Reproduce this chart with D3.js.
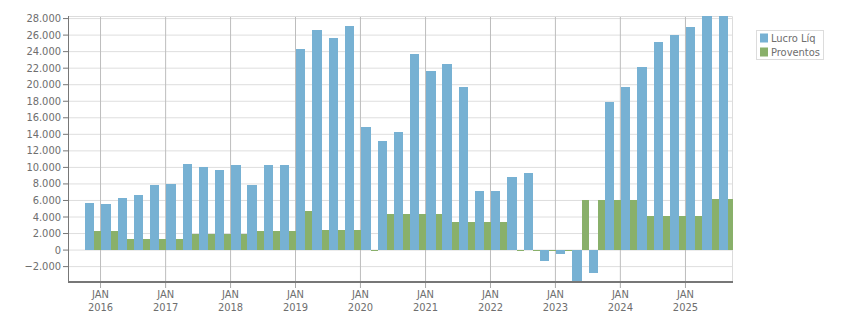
<!DOCTYPE html>
<html>
<head>
<meta charset="utf-8">
<script src="https://cdn.jsdelivr.net/npm/d3@7"></script>
<style>
  body { margin: 0; background: #fff; }
  text { font-family: 'DejaVu Sans Condensed', 'Liberation Sans', sans-serif; }
</style>
</head>
<body>
<div class="canvas"></div>
<script>
// quarter start (year-month) of each group of bars
const quarters = [
  '2015-10', '2016-01', '2016-04', '2016-07', '2016-10',
  '2017-01', '2017-04', '2017-07', '2017-10',
  '2018-01', '2018-04', '2018-07', '2018-10',
  '2019-01', '2019-04', '2019-07', '2019-10',
  '2020-01', '2020-04', '2020-07', '2020-10',
  '2021-01', '2021-04', '2021-07', '2021-10',
  '2022-01', '2022-04', '2022-07', '2022-10',
  '2023-01', '2023-04', '2023-07', '2023-10',
  '2024-01', '2024-04', '2024-07', '2024-10',
  '2025-01', '2025-04', '2025-07',
];

const lucroLiq = [
  5650, 5500, 6200, 6600, 7800, 7950, 10350, 10000, 9600, 10250,
  7800, 10250, 10250, 24300, 26600, 25600, 27050, 14800, 13100, 14200,
  23650, 21600, 22450, 19650, 7050, 7050, 8750, 9250, -1400, -550,
  -4200, -2850, 17850, 19650, 22100, 25100, 26000, 26950, 28600, 28600,
];

const proventos = [
  2250, 2250, 1250, 1250, 1250, 1250, 1850, 1850, 1850, 1850,
  2250, 2250, 2250, 4650, 2350, 2350, 2350, -120, 4300, 4300,
  4300, 4300, 3300, 3300, 3300, 3300, -120, -120, -120, -120,
  6000, 6000, 6000, 6000, 4050, 4050, 4050, 4050, 6100, 6100,
];

const seriesNames = ['Lucro Líq', 'Proventos'];
const yearTicks = [2016, 2017, 2018, 2019, 2020, 2021, 2022, 2023, 2024, 2025];
const yTicks = d3.range(-2000, 28001, 2000);

const dims = {
  width: 851,
  height: 313,
  marginLeft: 68,
  marginTop: 16,
  graphWidth: 665,
  graphHeight: 265,
  fontSize: '11px',
  textColor: '#6e6e6e',
};

const colors = ['#77b1d3', '#89b06a'];

const svg = d3
  .select('.canvas')
  .append('svg')
  .attr('width', dims.width)
  .attr('height', dims.height);

const graph = svg
  .append('g')
  .attr('transform', `translate(${dims.marginLeft}, ${dims.marginTop})`);

// scales
const parseQ = d3.timeParse('%Y-%m');
const x = d3
  .scaleTime()
  .domain([new Date(2015, 6, 5), new Date(2025, 8, 28)])
  .range([0, dims.graphWidth]);

const y = d3
  .scaleLinear()
  .domain([-3800, 28250])
  .range([dims.graphHeight, 0]);

// horizontal grid
graph
  .append('g')
  .call(d3.axisLeft(y).tickValues(yTicks).tickSize(-dims.graphWidth).tickFormat(''))
  .call((g) => g.select('.domain').remove())
  .selectAll('line')
  .attr('stroke', '#dedede');

// vertical grid at JAN
const janDates = yearTicks.map((yr) => new Date(yr, 0, 1));
graph
  .append('g')
  .attr('transform', `translate(0, ${dims.graphHeight})`)
  .call(d3.axisBottom(x).tickValues(janDates).tickSize(-dims.graphHeight).tickFormat(''))
  .call((g) => g.select('.domain').remove())
  .selectAll('line')
  .attr('stroke', '#bdbdbd');

// plot border (top / right)
graph
  .append('path')
  .attr('d', `M0,0.5H${dims.graphWidth - 0.5}V${dims.graphHeight}`)
  .attr('fill', 'none')
  .attr('stroke', '#dcdcdc');

// bars
graph
  .append('clipPath')
  .attr('id', 'plot-clip')
  .append('rect')
  .attr('width', dims.graphWidth)
  .attr('height', dims.graphHeight);

const data = quarters.map((q, i) => {
  const start = parseQ(q);
  const end = d3.timeMonth.offset(start, 3);
  return { start, end, values: [lucroLiq[i], proventos[i]] };
});

const barsG = graph.append('g').attr('clip-path', 'url(#plot-clip)');

const groups = barsG
  .selectAll('g')
  .data(data)
  .enter()
  .append('g');

const slots = [
  [0.085, 0.57],
  [0.655, 0.47],
];

[1, 0].forEach((s) => {
  groups
    .append('rect')
    .attr('fill', colors[s])
    .attr('shape-rendering', 'crispEdges')
    .attr('x', (d) => {
      const w = x(d.end) - x(d.start);
      return x(d.start) + w * slots[s][0];
    })
    .attr('width', (d) => (x(d.end) - x(d.start)) * slots[s][1])
    .attr('y', (d) => y(Math.max(0, d.values[s])))
    .attr('height', (d) => Math.abs(y(d.values[s]) - y(0)));
});

// y axis
const fmt = (d) => d3.format(',')(d).replace(/,/g, '.');
const yAxisGroup = graph.append('g').call(
  d3.axisLeft(y).tickValues(yTicks).tickSize(5).tickPadding(2).tickFormat(fmt)
);
yAxisGroup.select('.domain').remove();
yAxisGroup.selectAll('line').attr('stroke', '#777');
yAxisGroup
  .selectAll('text')
  .attr('fill', dims.textColor)
  .attr('font-size', dims.fontSize);

graph
  .append('line')
  .attr('x1', 0.5)
  .attr('x2', 0.5)
  .attr('y1', 0)
  .attr('y2', dims.graphHeight)
  .attr('stroke', '#777');

// x axis
const xAxisGroup = graph
  .append('g')
  .attr('transform', `translate(0, ${dims.graphHeight})`)
  .call(d3.axisBottom(x).tickValues(janDates).tickSize(7).tickFormat(''));
xAxisGroup.select('.domain').remove();
xAxisGroup.selectAll('line').attr('stroke', '#aaa');
xAxisGroup
  .selectAll('.tick')
  .append('text')
  .attr('fill', dims.textColor)
  .attr('font-size', dims.fontSize)
  .attr('text-anchor', 'middle')
  .each(function (d) {
    const t = d3.select(this);
    t.append('tspan').attr('x', 0).attr('y', 17).text('JAN');
    t.append('tspan').attr('x', 0).attr('y', 30).text(d.getFullYear());
  });

graph
  .append('line')
  .attr('x1', 0)
  .attr('x2', dims.graphWidth)
  .attr('y1', dims.graphHeight + 1)
  .attr('y2', dims.graphHeight + 1)
  .attr('stroke', '#777')
  .attr('stroke-width', 2);

// legend
const legend = svg.append('g').attr('transform', 'translate(756.5, 30.5)');
legend
  .append('rect')
  .attr('width', 67)
  .attr('height', 29)
  .attr('fill', '#fff')
  .attr('stroke', '#dcdcdc');

seriesNames.forEach((name, i) => {
  legend
    .append('rect')
    .attr('x', 3.5)
    .attr('y', 3 + i * 14)
    .attr('width', 8)
    .attr('height', 9)
    .attr('fill', colors[i]);
  legend
    .append('text')
    .attr('x', 14.5)
    .attr('y', 11.5 + i * 13.5)
    .attr('fill', dims.textColor)
    .attr('font-size', dims.fontSize)
    .text(name);
});
</script>
</body>
</html>
